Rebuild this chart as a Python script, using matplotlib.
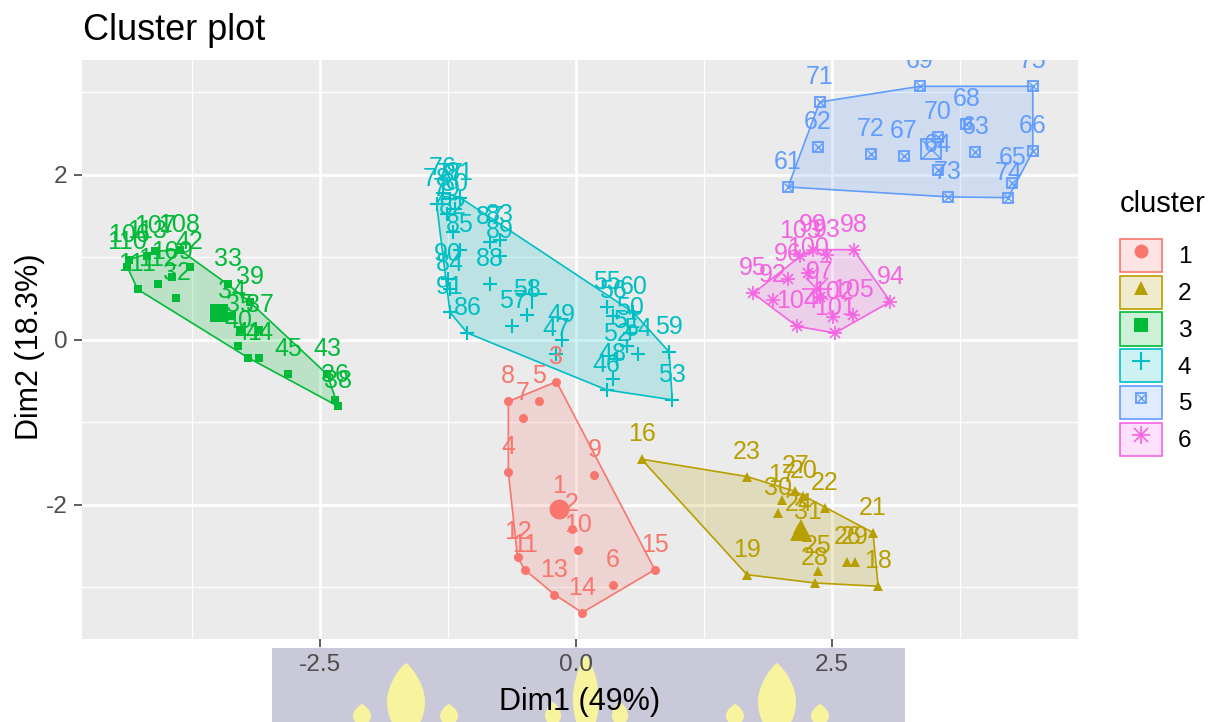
import numpy as np
import matplotlib.pyplot as plt
from matplotlib.patches import Polygon, Patch, Rectangle
from matplotlib.lines import Line2D
from matplotlib.colors import to_rgba

plt.rcParams['font.family'] = ['Liberation Sans', 'DejaVu Sans']
plt.rcParams['axes.unicode_minus'] = False

# cluster members on the first two principal dims
c1_id = [1, 2, 3, 4, 5, 6, 7, 8, 9, 10, 11, 12, 13, 14, 15]
c1_x = [-0.16, -0.04, -0.19, -0.66, -0.36, 0.36, -0.52, -0.66, 0.18, 0.02, -0.50, -0.57, -0.21, 0.06, 0.77]
c1_y = [-2.08, -2.30, -0.51, -1.61, -0.75, -2.97, -0.95, -0.75, -1.64, -2.55, -2.79, -2.64, -3.09, -3.31, -2.79]

c2_id = [16, 17, 18, 19, 20, 21, 22, 23, 24, 25, 26, 27, 28, 29, 30, 31]
c2_x = [0.64, 2.01, 2.95, 1.67, 2.22, 2.90, 2.43, 1.67, 2.17, 2.36, 2.65, 2.14, 2.33, 2.72, 1.97, 2.26]
c2_y = [-1.45, -1.94, -2.99, -2.85, -1.90, -2.34, -2.04, -1.66, -2.30, -2.81, -2.70, -1.84, -2.95, -2.70, -2.10, -2.39]

c3_id = [32, 33, 34, 35, 36, 37, 38, 39, 40, 41, 42, 43, 44, 45,
         106, 107, 108, 109, 110, 111, 112, 113]
c3_x = [-3.90, -3.40, -3.36, -3.28, -2.35, -3.09, -2.32, -3.18, -3.30, -3.20, -3.77, -2.43, -3.09, -2.81,
        -4.36, -4.11, -3.87, -3.94, -4.38, -4.28, -4.08, -4.19]
c3_y = [0.51, 0.67, 0.28, 0.12, -0.73, 0.12, -0.81, 0.45, -0.08, -0.22, 0.88, -0.42, -0.22, -0.42,
        0.97, 1.07, 1.09, 0.76, 0.88, 0.61, 0.67, 1.01]

c4_id = [46, 47, 48, 49, 50, 51, 52, 53, 54, 55, 56, 57, 58, 59, 60,
         76, 77, 78, 79, 80, 81, 82, 83, 84, 85, 86, 87, 88, 89, 90, 91]
c4_x = [0.30, -0.19, 0.36, -0.14, 0.53, 0.50, 0.40, 0.94, 0.61, 0.30, 0.36, -0.62, -0.48, 0.91, 0.56,
        -1.30, -1.23, -1.36, -1.26, -1.18, -1.13, -1.20, -0.74, -1.23, -1.13, -1.06, -0.84, -0.84, -0.74, -1.25, -1.23]
c4_y = [-0.61, -0.18, -0.48, 0.00, 0.08, -0.08, -0.24, -0.73, -0.18, 0.40, 0.28, 0.16, 0.30, -0.15, 0.33,
        1.78, 1.70, 1.64, 1.52, 1.58, 1.72, 1.31, 1.21, 0.61, 1.09, 0.08, 1.18, 0.67, 1.01, 0.73, 0.33]

c5_id = [61, 62, 63, 64, 65, 66, 67, 68, 69, 70, 71, 72, 73, 74, 75]
c5_x = [2.07, 2.36, 3.90, 3.53, 4.26, 4.46, 3.20, 3.81, 3.36, 3.53, 2.38, 2.88, 3.63, 4.22, 4.46]
c5_y = [1.85, 2.34, 2.27, 2.06, 1.90, 2.28, 2.22, 2.61, 3.07, 2.46, 2.88, 2.25, 1.73, 1.72, 3.07]

c6_id = [92, 93, 94, 95, 96, 97, 98, 99, 100, 101, 102, 103, 104, 105]
c6_x = [1.92, 2.45, 3.07, 1.73, 2.07, 2.38, 2.71, 2.31, 2.27, 2.53, 2.51, 2.19, 2.16, 2.70]
c6_y = [0.48, 1.03, 0.46, 0.56, 0.73, 0.52, 1.09, 1.09, 0.81, 0.08, 0.27, 1.01, 0.16, 0.30]

cluster_names = ['1', '2', '3', '4', '5', '6']
ids = [c1_id, c2_id, c3_id, c4_id, c5_id, c6_id]
xs = [c1_x, c2_x, c3_x, c4_x, c5_x, c6_x]
ys = [c1_y, c2_y, c3_y, c4_y, c5_y, c6_y]

colors = ['#F8766D', '#B79F00', '#00BA38', '#00BFC4', '#619CFF', '#F564E3']
shapes = ['o', '^', 's', '+', 'sx', 'ast']


def convex_hull(px, py):
    pts = sorted(set(zip(px, py)))
    def cross(o, a, b):
        return (a[0]-o[0])*(b[1]-o[1]) - (a[1]-o[1])*(b[0]-o[0])
    lower = []
    for p in pts:
        while len(lower) >= 2 and cross(lower[-2], lower[-1], p) <= 0:
            lower.pop()
        lower.append(p)
    upper = []
    for p in reversed(pts):
        while len(upper) >= 2 and cross(upper[-2], upper[-1], p) <= 0:
            upper.pop()
        upper.append(p)
    return lower[:-1] + upper[:-1]


def draw_points(ax, x, y, shape, c, scale=1.0, z=3):
    if shape == 'o':
        ax.plot(x, y, 'o', ms=6.5*scale, color=c, mew=0, ls='none', zorder=z)
    elif shape == '^':
        ax.plot(x, y, '^', ms=7*scale, color=c, mew=0, ls='none', zorder=z)
    elif shape == 's':
        ax.plot(x, y, 's', ms=6*scale, color=c, mew=0, ls='none', zorder=z)
    elif shape == '+':
        ax.plot(x, y, '+', ms=9.5*scale, color=c, mew=1.5, ls='none', zorder=z)
    elif shape == 'sx':
        ax.plot(x, y, 's', ms=6.5*scale, mfc='none', mec=c, mew=1.3, ls='none', zorder=z)
        ax.plot(x, y, 'x', ms=6.0*scale, color=c, mew=1.0, ls='none', zorder=z)
    else:
        ax.plot(x, y, '+', ms=10*scale, color=c, mew=1.2, ls='none', zorder=z)
        ax.plot(x, y, 'x', ms=7.5*scale, color=c, mew=1.2, ls='none', zorder=z)


fig = plt.figure(figsize=(12.28, 7.22), dpi=100)
ax = fig.add_axes([0.0668, 0.1150, 0.8111, 0.8019])
ax.set_facecolor('#EBEBEB')

for i in range(6):
    x = np.array(xs[i]); y = np.array(ys[i]); c = colors[i]
    hull = convex_hull(xs[i], ys[i])
    ax.add_patch(Polygon(hull, closed=True, fc=to_rgba(c, 0.2), ec=c, lw=1.2, zorder=2))
    draw_points(ax, x, y, shapes[i], c)
    for k, lab in enumerate(ids[i]):
        ax.annotate(str(lab), (x[k], y[k]), xytext=(0, 18), textcoords='offset points',
                    ha='center', va='center', fontsize=18, color=c, clip_on=True, zorder=4)
    draw_points(ax, [x.mean()], [y.mean()], shapes[i], c, scale=2.2, z=5)

allx = np.concatenate([np.array(v) for v in xs])
ally = np.concatenate([np.array(v) for v in ys])
dx = (allx.max() - allx.min()) * 0.05
dy = (ally.max() - ally.min()) * 0.05
ax.set_xlim(allx.min() - dx, allx.max() + dx)
ax.set_ylim(ally.min() - dy, ally.max() + dy)

ax.set_xticks([-2.5, 0.0, 2.5])
ax.set_xticklabels(['-2.5', '0.0', '2.5'])
ax.set_yticks([-2, 0, 2])
ax.set_yticklabels(['-2', '0', '2'])
ax.set_xticks([-3.75, -1.25, 1.25, 3.75], minor=True)
ax.set_yticks([-3, -1, 1, 3], minor=True)
ax.grid(which='major', color='white', lw=2.0)
ax.grid(which='minor', color='white', lw=1.0)
ax.set_axisbelow(True)
for s in ax.spines.values():
    s.set_visible(False)
ax.tick_params(which='major', length=5.5, width=1.1, color='#333333', labelsize=17.6,
               labelcolor='#4D4D4D', pad=5)
ax.tick_params(which='minor', length=0)

fig.text(0.0676, 0.944, 'Cluster plot', fontsize=26, ha='left', va='baseline')
fig.text(0.472, 0.0166, 'Dim1 (49%)', fontsize=22, ha='center', va='baseline')
fig.text(0.0244, 0.52, 'Dim2 (18.3%)', fontsize=22, ha='center', va='center', rotation=90)

handles = []
for i in range(6):
    c = colors[i]
    box = Patch(fc=to_rgba(c, 0.2), ec=c, lw=1.2)
    if shapes[i] == 'sx':
        mk = (box, Line2D([], [], marker='s', ms=7, mfc='none', mec=c, mew=1.3, ls='none'),
              Line2D([], [], marker='x', ms=6, color=c, mew=1.0, ls='none'))
    elif shapes[i] == 'ast':
        mk = (box, Line2D([], [], marker='+', ms=13, color=c, mew=1.2, ls='none'),
              Line2D([], [], marker='x', ms=10, color=c, mew=1.2, ls='none'))
    elif shapes[i] == '+':
        mk = (box, Line2D([], [], marker='+', ms=13, color=c, mew=1.5, ls='none'))
    else:
        mk = (box, Line2D([], [], marker=shapes[i], ms=10, color=c, mew=0, ls='none'))
    handles.append(mk)

leg = fig.legend(handles, cluster_names, loc='upper left', bbox_to_anchor=(1120/1228, (722-190)/722),
                 frameon=False, title='cluster', title_fontsize=21, fontsize=17.6, numpoints=1,
                 handlelength=1.72, handleheight=1.72, labelspacing=0.14, handletextpad=0.65,
                 borderpad=0, borderaxespad=0, alignment='left')
leg._legend_box.sep = 15

# faint watermark strip under the x axis
W, H = 1228.0, 722.0
fig.patches.append(Rectangle((272/W, 0), 633/W, 74/H, transform=fig.transFigure,
                             fc='#C9C9D9', ec='none', zorder=-2))


def flame(cx, tip, hw, base=722):
    yy = np.linspace(tip, base, 40)
    s = (yy - tip) / (base - tip)
    w = hw * np.sin(np.pi * s * 0.75) ** 0.8
    px = np.concatenate([cx - w, (cx + w)[::-1]])
    py = np.concatenate([yy, yy[::-1]])
    return np.column_stack([px / W, 1 - py / H])


for cx, tip, hw in [(406, 663, 19), (777, 663, 19), (586, 655, 13),
                    (362, 704, 9), (449, 704, 9), (735, 704, 9), (820, 704, 9),
                    (553, 702, 8), (620, 702, 8)]:
    fig.patches.append(Polygon(flame(cx, tip, hw), closed=True, transform=fig.transFigure,
                               fc='#F8F49E', ec='none', zorder=-1))

fig.savefig('out.png', dpi=100, facecolor='white')
